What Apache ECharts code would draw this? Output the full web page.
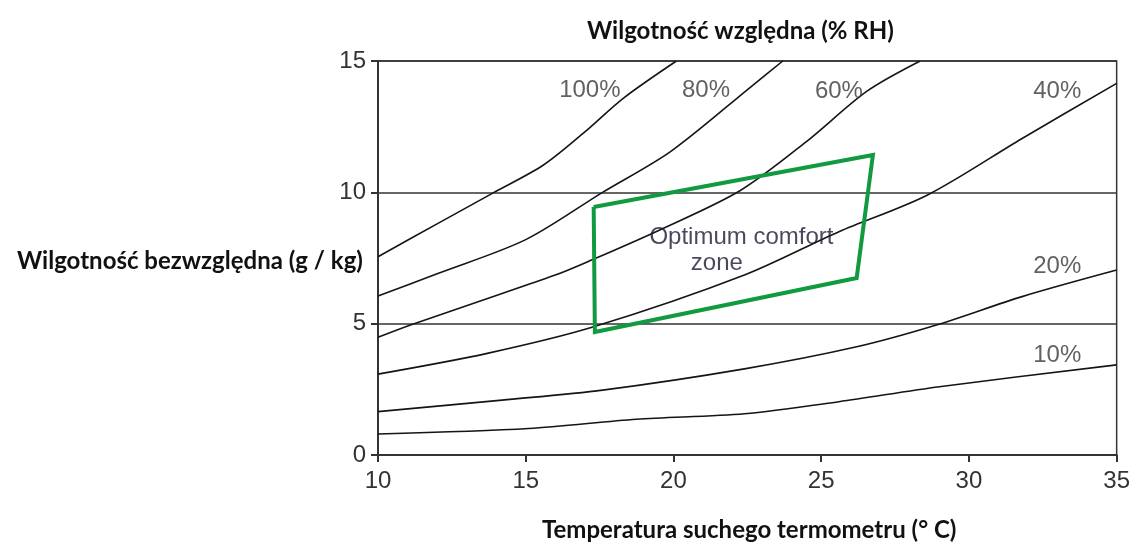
<!DOCTYPE html>
<html>
<head>
<meta charset="utf-8">
<script src="https://cdn.jsdelivr.net/npm/echarts@6/dist/echarts.min.js"></script>
<style>
html,body{margin:0;padding:0;background:#fff;}
#chart{width:1133px;height:542px;}
</style>
</head>
<body>
<div id="chart"></div>
<script>
// Relative humidity curves: [temperature °C, absolute humidity g/kg]
var rh100 = [[10,7.55],[12,8.8],[13.9,9.98],[15.6,11.04],[17,12.3],[18.3,13.58],[20.1,15]];
var rh80  = [[10,6.05],[12,6.9],[15,8.2],[17.6,10],[19.9,11.55],[22.6,14.0],[23.7,15]];
var rh60  = [[10,4.48],[11.1,4.95],[14.2,6.15],[16,6.85],[17.1,7.36],[19.5,8.55],[22.25,10.06],[24.5,11.93],[26.55,13.85],[28.35,15]];
var rh40  = [[10,3.08],[13.7,3.87],[17.3,4.88],[22.4,6.85],[25.6,8.5],[28.6,9.9],[31.8,12.05],[35,14.15]];
var rh20  = [[10,1.65],[14.2,2.09],[17.6,2.47],[22.4,3.28],[26.2,4.12],[28.9,4.95],[31.8,6.03],[35,7.04]];
var rh10  = [[10,0.8],[15.1,1.01],[18.75,1.36],[22.4,1.57],[25.6,2.03],[29,2.6],[35,3.43]];
var comfortZone = [[17.3,9.44],[26.75,11.42],[26.2,6.74],[17.34,4.68],[17.3,9.44]];
var curveLabels = [[17.17,13.9,'100%'],[21.1,13.9,'80%'],[25.6,13.85,'60%'],[32.99,13.85,'40%'],[32.99,7.2,'20%'],[32.99,3.8,'10%']];
var zoneLabels = [[22.3,8.3,'Optimum comfort'],[21.47,7.3,'zone']];
var xTicks = [10,15,20,25,30,35];
var yTicks = [0,5,10,15];
var topTitle = 'Wilgotność względna (% RH)';
var leftTitle = 'Wilgotność bezwzględna (g / kg)';
var bottomTitle = 'Temperatura suchego termometru (° C)';

var chart = echarts.init(document.getElementById('chart'));
function curve(d){
  return {type:'line', data:d, smooth:0.3, symbol:'none',
    lineStyle:{color:'#151515', width:1.6}, silent:true, z:3};
}
var titleStyle = {fontFamily:'Lato', fontWeight:'bold', fontSize:24, color:'#111'};
chart.setOption({
  animation:false,
  backgroundColor:'#fff',
  title:[
    {text:topTitle, left:582, top:14, textStyle:titleStyle},
    {text:leftTitle, left:12, top:244, textStyle:titleStyle},
    {text:bottomTitle, left:537, top:513, textStyle:titleStyle}
  ],
  grid:{left:378, right:16, top:61, bottom:87, show:true, borderColor:'#333', borderWidth:1.5, containLabel:false},
  xAxis:{type:'value', min:xTicks[0], max:xTicks[xTicks.length-1], interval:5,
    axisLine:{show:true, lineStyle:{color:'#333', width:2}},
    axisTick:{show:true, length:7, lineStyle:{color:'#333', width:2}},
    axisLabel:{color:'#333', fontSize:24, fontFamily:'Liberation Sans', margin:14},
    splitLine:{show:false}},
  yAxis:{type:'value', min:yTicks[0], max:yTicks[yTicks.length-1], interval:5,
    axisLine:{show:true, lineStyle:{color:'#333', width:2}},
    axisTick:{show:true, length:7, lineStyle:{color:'#333', width:2}},
    axisLabel:{color:'#333', fontSize:24, fontFamily:'Liberation Sans', margin:12},
    splitLine:{show:true, lineStyle:{color:'#333', width:1.5}}},
  series:[
    curve(rh100), curve(rh80), curve(rh60), curve(rh40), curve(rh20), curve(rh10),
    {type:'line', data:comfortZone, symbol:'none', smooth:false, silent:true, z:4,
     lineStyle:{color:'#119a3f', width:4, join:'miter'}},
    {type:'scatter', symbolSize:0, silent:true, z:5,
     data:curveLabels.map(function(d){return {value:[d[0],d[1]], name:d[2]};}),
     label:{show:true, position:'inside', formatter:function(p){return p.name;},
       color:'#3a3a3a', fontSize:24, fontFamily:'Liberation Sans'}},
    {type:'scatter', symbolSize:0, silent:true, z:5,
     data:zoneLabels.map(function(d){return {value:[d[0],d[1]], name:d[2]};}),
     label:{show:true, position:'inside', formatter:function(p){return p.name;},
       color:'#1b1b33', fontSize:24, fontFamily:'Liberation Sans'}}
  ]
});
</script>
</body>
</html>
